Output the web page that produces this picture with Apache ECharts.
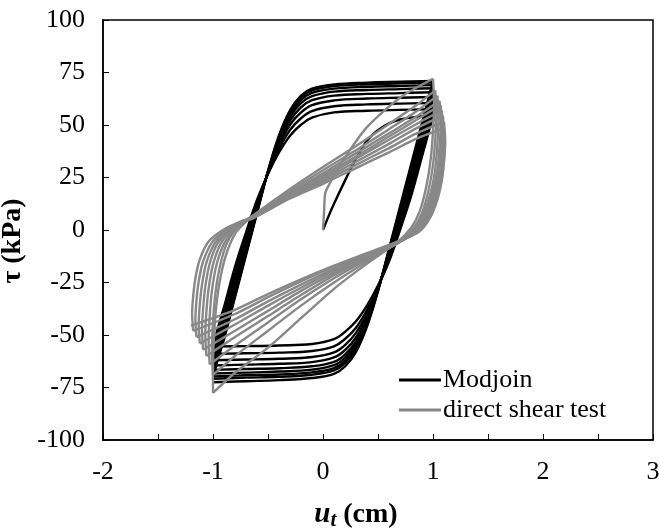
<!DOCTYPE html>
<html>
<head>
<meta charset="utf-8">
<script src="https://cdn.jsdelivr.net/npm/echarts@6/dist/echarts.min.js"></script>
<style>
  html, body { margin: 0; padding: 0; background: #fff; }
  #chart { width: 659px; height: 531px; }
</style>
</head>
<body>
<div id="chart"></div>
<script>
// Displacement grids (cm) shared by the Modjoin half-cycles
const uRise = [-1, -0.96, -0.9, -0.8, -0.7, -0.6, -0.5, -0.4, -0.3, -0.2, -0.1, 0.1, 0.4, 0.7, 1];
const uFall = [1, 0.96, 0.9, 0.8, 0.7, 0.6, 0.5, 0.4, 0.3, 0.2, 0.1, -0.1, -0.4, -0.7, -1];

// Modjoin: first loading from rest, [u, tau]
const modjoinInitial = [[0, 0], [0.05, 6.5], [0.1, 12.5], [0.2, 23.5], [0.3, 34], [0.4, 42.5],
  [0.5, 47.5], [0.6, 50.8], [0.7, 52.6], [0.85, 53.9], [1, 54.5]];

// Modjoin unloading half-cycles (tau at uFall), in order
const modjoinFalling = [
  [54.5, 46.5, 35, 16, 0, -15, -26.5, -36, -43.5, -48.5, -52, -54.3, -55, -55.3, -55.5],
  [57.5, 49.5, 38.3, 19.1, 2.3, -13.8, -27, -38.1, -46.5, -51.9, -55.4, -57.6, -58.4, -58.7, -59],
  [60.5, 52.5, 41.1, 21.7, 4.2, -12.7, -27.5, -39.8, -49, -54.8, -58.3, -60.5, -61.3, -61.7, -62],
  [63.3, 55.3, 43.5, 24, 5.8, -11.8, -27.8, -41.3, -51.2, -57.2, -60.7, -62.9, -63.7, -64.1, -64.5],
  [65.6, 57.6, 45.4, 25.8, 7.2, -11.1, -28.1, -42.5, -53, -59.3, -62.8, -64.9, -65.8, -66.2, -66.6],
  [67.5, 59.5, 47, 27.3, 8.3, -10.5, -28.4, -43.5, -54.4, -60.9, -64.4, -66.5, -67.4, -67.9, -68.3],
  [69, 61, 48.4, 28.5, 9.2, -10, -28.6, -44.4, -55.6, -62.3, -65.8, -67.8, -68.8, -69.2, -69.7],
  [70.2, 62.2, 49.4, 29.5, 9.9, -9.6, -28.8, -45, -56.5, -63.4, -66.9, -68.9, -69.9, -70.3, -70.8],
  [71, 63, 51, 31, 11, -9, -29, -46, -58, -65, -68.5, -70.5, -71.5, -72, -72.5]
];

// Modjoin reloading half-cycles (tau at uRise), in order
const modjoinRising = [
  [-55.5, -47.5, -36.7, -17.6, -1.2, 14.3, 26.7, 36.9, 44.9, 50.1, 53.5, 56, 56.8, 57.2, 57.5],
  [-59, -50.8, -40.1, -20.8, -3.6, 12.9, 27, 38.7, 47.6, 53.2, 56.6, 58.9, 59.8, 60.2, 60.5],
  [-62, -53.7, -43.3, -23.8, -5.8, 11.6, 27.2, 40.4, 50.1, 56, 59.5, 61.7, 62.6, 63, 63.3],
  [-64.5, -56.2, -45.9, -26.2, -7.7, 10.5, 27.5, 41.8, 52.1, 58.4, 61.8, 64, 64.8, 65.2, 65.6],
  [-66.6, -58.2, -48, -28.3, -9.2, 9.6, 27.7, 42.9, 53.9, 60.4, 63.7, 65.9, 66.7, 67.1, 67.5],
  [-68.3, -59.9, -49.7, -29.9, -10.4, 8.9, 27.8, 43.8, 55.2, 61.9, 65.3, 67.3, 68.2, 68.6, 69],
  [-69.7, -61.3, -51.1, -31.2, -11.4, 8.4, 27.9, 44.5, 56.3, 63.2, 66.5, 68.5, 69.4, 69.8, 70.2],
  [-70.8, -62.4, -52, -32, -12, 8, 28, 45, 57, 64, 67.3, 69.3, 70.2, 70.6, 71]
];

// Direct shear test: first loading, [u, tau]
const shearInitial = [[0, 0], [0.01, 9], [0.02, 17.5], [0.06, 22], [0.18, 33], [0.4, 49], [0.7, 63], [1.0, 72]];

// Direct shear test: unloading half-cycles, [u, tau]
const shearFalling = [
  [[1.0, 72], [1.01, 60], [1.0, 47], [0.98, 34], [0.94, 21], [0.88, 9], [0.8, 1], [0.67, -6], [0.4, -16], [0.1, -28], [-0.2, -42], [-0.5, -56], [-0.8, -68], [-1.0, -77.6]],
  [[1.02, 66.5], [1.03, 55], [1.02, 43], [1.0, 31], [0.96, 19], [0.9, 8], [0.81, 0], [0.68, -6], [0.4, -15], [0.1, -25], [-0.2, -36], [-0.5, -48], [-0.8, -60], [-1.0, -69]],
  [[1.04, 64], [1.05, 53], [1.04, 41], [1.02, 29], [0.98, 18], [0.91, 7.5], [0.82, 0], [0.69, -6], [0.4, -14], [0.1, -23], [-0.2, -33], [-0.5, -44], [-0.8, -55], [-1.03, -64]],
  [[1.06, 61.5], [1.07, 51], [1.06, 40], [1.04, 28.5], [0.99, 17], [0.92, 7], [0.83, -0.5], [0.69, -6], [0.4, -13.5], [0.1, -21.5], [-0.2, -31], [-0.5, -41], [-0.8, -51], [-1.06, -60]],
  [[1.07, 59.5], [1.08, 49], [1.07, 38.5], [1.05, 27.5], [1.0, 16.5], [0.93, 6.5], [0.83, -0.5], [0.69, -5.5], [0.4, -13], [0.1, -20.5], [-0.2, -29], [-0.5, -38.5], [-0.8, -48], [-1.09, -57]],
  [[1.08, 57], [1.09, 47], [1.08, 37], [1.06, 26.5], [1.01, 16], [0.94, 6], [0.84, -1], [0.7, -5.5], [0.4, -12.5], [0.1, -19.5], [-0.2, -27.5], [-0.5, -36], [-0.8, -45], [-1.12, -54]],
  [[1.09, 54.5], [1.1, 45], [1.09, 35.5], [1.07, 25.5], [1.02, 15.5], [0.95, 6], [0.85, -1], [0.7, -5.5], [0.4, -12], [0.1, -18.5], [-0.2, -26], [-0.5, -34], [-0.8, -42.5], [-1.15, -51]],
  [[1.1, 51.5], [1.11, 43], [1.1, 34], [1.08, 24.5], [1.03, 15], [0.96, 5.5], [0.86, -1], [0.7, -5], [0.4, -11.5], [0.1, -17.5], [-0.2, -24.5], [-0.5, -32], [-0.8, -40], [-1.18, -48]],
  [[1.1, 48.5], [1.11, 41], [1.1, 32.5], [1.08, 23.5], [1.04, 14.5], [0.97, 5.5], [0.87, -1], [0.7, -5], [0.4, -11], [0.1, -17], [-0.2, -23.5], [-0.5, -30.5], [-0.8, -38], [-1.2, -45.5]]
];

// Direct shear test: reloading half-cycles, [u, tau]
const shearRising = [
  [[-1.0, -77.6], [-1.0, -64], [-0.99, -50], [-0.97, -36], [-0.93, -22], [-0.87, -10], [-0.79, -1], [-0.7, 4], [-0.62, 7.5], [-0.3, 19.5], [0, 30], [0.3, 40], [0.6, 50.5], [0.85, 59.5], [1.02, 66.5]],
  [[-1.0, -69], [-1.01, -57], [-1.0, -44], [-0.98, -31], [-0.94, -18], [-0.88, -7], [-0.8, 0], [-0.71, 4], [-0.63, 7], [-0.3, 18.5], [0, 28.5], [0.3, 38], [0.6, 48], [0.85, 56.5], [1.04, 64]],
  [[-1.03, -64], [-1.04, -53], [-1.03, -41], [-1.01, -29], [-0.97, -17], [-0.9, -6.5], [-0.81, 0], [-0.72, 4], [-0.64, 6.5], [-0.3, 17.5], [0, 27], [0.3, 36.5], [0.6, 46], [0.85, 54], [1.06, 61.5]],
  [[-1.06, -60], [-1.07, -50], [-1.06, -39], [-1.04, -28], [-1.0, -16.5], [-0.93, -6.5], [-0.83, 0], [-0.73, 4], [-0.64, 6.5], [-0.3, 17], [0, 26], [0.3, 35], [0.6, 44.5], [0.85, 52.5], [1.07, 59.5]],
  [[-1.09, -57], [-1.1, -47.5], [-1.09, -37.5], [-1.07, -27], [-1.03, -16], [-0.96, -6.5], [-0.85, 0], [-0.74, 4], [-0.64, 6], [-0.3, 16.5], [0, 25], [0.3, 34], [0.6, 43], [0.85, 50.5], [1.08, 57]],
  [[-1.12, -54], [-1.13, -45], [-1.12, -35.5], [-1.1, -26], [-1.06, -15.5], [-0.98, -6], [-0.87, 0], [-0.75, 4], [-0.64, 6], [-0.3, 16], [0, 24], [0.3, 32.5], [0.6, 41], [0.85, 48.5], [1.09, 54.5]],
  [[-1.15, -51], [-1.16, -42.5], [-1.15, -33.5], [-1.13, -24.5], [-1.09, -15], [-1.01, -6], [-0.89, 0], [-0.76, 3.5], [-0.64, 5.5], [-0.3, 15.5], [0, 23], [0.3, 31], [0.6, 39], [0.85, 46], [1.1, 51.5]],
  [[-1.18, -48], [-1.19, -40], [-1.18, -31.5], [-1.16, -23], [-1.12, -14], [-1.04, -5.5], [-0.91, 0], [-0.77, 3.5], [-0.64, 5.5], [-0.3, 15], [0, 22], [0.3, 29.5], [0.6, 37], [0.85, 43.5], [1.1, 48.5]]
];

const xTicks = { min: -2, max: 3, step: 0.5 };
const yTicks = { min: -100, max: 100, step: 25 };

const SERIF = '"Liberation Serif", "Times New Roman", serif';
const BLACK = '#000000';
const GREY = '#888888';

function pairs(us, taus) { return us.map((u, i) => [u, taus[i]]); }

// Assemble the Modjoin path in loading order
const modjoinBranches = [modjoinInitial];
for (let i = 0; i < modjoinFalling.length; i++) {
  modjoinBranches.push(pairs(uFall, modjoinFalling[i]));
  if (i < modjoinRising.length) modjoinBranches.push(pairs(uRise, modjoinRising[i]));
}
// Assemble the test path in loading order
const shearBranches = [shearInitial];
for (let i = 0; i < shearFalling.length; i++) {
  shearBranches.push(shearFalling[i]);
  if (i < shearRising.length) shearBranches.push(shearRising[i]);
}

function lineSeries(name, data, color, width, smooth) {
  return {
    name, type: 'line', data, smooth,
    showSymbol: false, symbol: 'none', animation: false,
    lineStyle: { color, width }, itemStyle: { color },
    emphasis: { disabled: true }
  };
}

const series = [];
modjoinBranches.forEach(b => series.push(lineSeries('Modjoin', b, BLACK, 2.4, 0.4)));
shearBranches.forEach(b => series.push(lineSeries('direct shear test', b, GREY, 2.4, 0.25)));

const chart = echarts.init(document.getElementById('chart'), null, { renderer: 'canvas' });
chart.setOption({
  backgroundColor: '#ffffff',
  animation: false,
  grid: {
    left: 103, right: 6, top: 20, bottom: 91,
    containLabel: false, outerBoundsMode: 'none',
    show: true, borderColor: '#000', borderWidth: 1.5
  },
  legend: {
    orient: 'vertical', left: 394, top: 362, itemGap: 4,
    itemWidth: 42, itemHeight: 3, icon: 'rect',
    data: ['Modjoin', 'direct shear test'],
    textStyle: { fontFamily: SERIF, fontSize: 26, color: '#000', padding: [0, 0, 0, -3] }
  },
  xAxis: {
    type: 'value', min: xTicks.min, max: xTicks.max, interval: xTicks.step,
    axisLine: { show: true, onZero: false, lineStyle: { color: '#000', width: 1.5 } },
    axisTick: { show: true, inside: true, length: 6, lineStyle: { color: '#000', width: 1 } },
    splitLine: { show: false },
    axisLabel: {
      margin: 19, fontFamily: SERIF, fontSize: 26, color: '#000',
      formatter: v => (Number.isInteger(v) ? String(v) : '')
    },
    name: '{u|u}{t|t}{c| (cm)}',
    nameLocation: 'middle', nameGap: 58,
    nameTextStyle: {
      padding: [0, 44, 0, 0],
      rich: {
        u: { fontFamily: SERIF, fontSize: 29, fontWeight: 'bold', fontStyle: 'italic', color: '#000' },
        t: { fontFamily: SERIF, fontSize: 21, fontWeight: 'bold', fontStyle: 'italic', color: '#000', padding: [12, 0, 0, 0] },
        c: { fontFamily: SERIF, fontSize: 28, fontWeight: 'bold', color: '#000' }
      }
    }
  },
  yAxis: {
    type: 'value', min: yTicks.min, max: yTicks.max, interval: yTicks.step,
    axisLine: { show: true, onZero: false, lineStyle: { color: '#000', width: 1.5 } },
    axisTick: { show: true, inside: true, length: 6, lineStyle: { color: '#000', width: 1 } },
    splitLine: { show: false },
    axisLabel: { margin: 18, fontFamily: SERIF, fontSize: 26, color: '#000' },
    name: 'τ (kPa)',
    nameLocation: 'middle', nameGap: 72,
    nameTextStyle: { fontFamily: SERIF, fontSize: 28, fontWeight: 'bold', color: '#000', padding: [0, 22, 0, 0] }
  },
  series
});
</script>
</body>
</html>
